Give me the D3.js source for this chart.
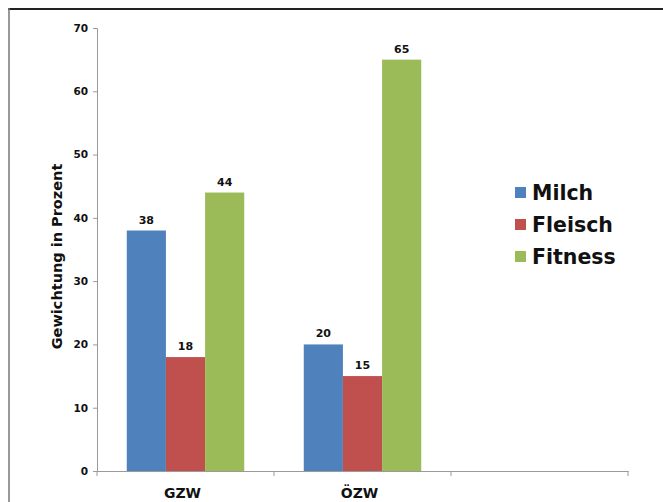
<!DOCTYPE html>
<html>
<head>
<meta charset="utf-8">
<script src="https://cdn.jsdelivr.net/npm/d3@7"></script>
<style>
  html, body { margin: 0; padding: 0; background: #fff; }
  svg { display: block; }
</style>
</head>
<body>
<svg id="chart" width="663" height="502"></svg>
<script>
// Gewichtung der Merkmalskomplexe in den Zuchtwerten
const categories = ["GZW", "ÖZW", ""];
const seriesNames = ["Milch", "Fleisch", "Fitness"];
const milch   = [38, 20, null];
const fleisch = [18, 15, null];
const fitness = [44, 65, null];
const yTicks = [0, 10, 20, 30, 40, 50, 60, 70];
const colors = ["#4F81BD", "#C0504D", "#9BBB59"];

const seriesValues = [milch, fleisch, fitness];

const svg = d3.select("#chart");
const font = "'DejaVu Sans', Verdana, sans-serif";

// frame
svg.append("line").attr("x1", 8).attr("x2", 663).attr("y1", 9).attr("y2", 9)
  .attr("stroke", "#222").attr("stroke-width", 2);
svg.append("line").attr("x1", 9).attr("x2", 9).attr("y1", 8).attr("y2", 502)
  .attr("stroke", "#777").attr("stroke-width", 1.5);

const plot = { left: 97, right: 628, top: 28, bottom: 471 };

const x = d3.scaleBand().domain(d3.range(categories.length))
  .range([plot.left, plot.right]).paddingInner(0).paddingOuter(0);
const inner = d3.scaleBand().domain(d3.range(seriesNames.length))
  .range([0, x.bandwidth()]).paddingOuter(0.76).paddingInner(0);
const y = d3.scaleLinear().domain([0, 70]).range([plot.bottom, plot.top]);

// y axis
const yAxis = svg.append("g").attr("transform", `translate(${plot.left},0)`)
  .call(d3.axisLeft(y).tickValues(yTicks).tickSize(4).tickPadding(5).tickFormat(d3.format("d")));
yAxis.select(".domain").attr("stroke", "#9a9a9a");
yAxis.selectAll(".tick line").attr("stroke", "#9a9a9a");
yAxis.selectAll("text").attr("font-family", font).attr("font-weight", "bold")
  .attr("font-size", 10.5).attr("fill", "#111");

// x axis
const xAxis = svg.append("g").attr("transform", `translate(0,${plot.bottom})`)
  .call(d3.axisBottom(x).tickValues([]).tickSizeOuter(0));
xAxis.select(".domain").attr("stroke", "#9a9a9a");
const bounds = d3.range(categories.length + 1).map(i => plot.left + i * x.bandwidth());
svg.append("g").selectAll("line").data(bounds).join("line")
  .attr("x1", d => d).attr("x2", d => d)
  .attr("y1", plot.bottom).attr("y2", plot.bottom + 5)
  .attr("stroke", "#9a9a9a");
svg.append("g").selectAll("text").data(categories).join("text")
  .attr("x", (d, i) => x(i) + x.bandwidth() / 2 - 3)
  .attr("y", plot.bottom + 27)
  .attr("text-anchor", "middle")
  .attr("font-family", font).attr("font-weight", "bold").attr("font-size", 14)
  .attr("fill", "#111")
  .text(d => d);

// bars
seriesValues.forEach((vals, s) => {
  const g = svg.append("g");
  const data = vals.map((v, i) => ({ v, i })).filter(d => d.v != null);
  g.selectAll("rect").data(data).join("rect")
    .attr("x", d => x(d.i) + inner(s))
    .attr("width", inner.bandwidth())
    .attr("y", d => y(d.v))
    .attr("height", d => y(0) - y(d.v))
    .attr("fill", colors[s]);
  g.selectAll("text").data(data).join("text")
    .attr("x", d => x(d.i) + inner(s) + inner.bandwidth() / 2)
    .attr("y", d => y(d.v) - 7)
    .attr("text-anchor", "middle")
    .attr("font-family", font).attr("font-weight", "bold").attr("font-size", 11)
    .attr("fill", "#111")
    .text(d => d.v);
});

// y axis title
svg.append("text")
  .attr("transform", `translate(62,${(plot.top + plot.bottom) / 2 + 7}) rotate(-90)`)
  .attr("text-anchor", "middle")
  .attr("font-family", font).attr("font-weight", "bold").attr("font-size", 14.5)
  .attr("fill", "#111")
  .text("Gewichtung in Prozent");

// legend
const legend = svg.append("g").attr("transform", "translate(515,193)");
seriesNames.forEach((name, i) => {
  const row = legend.append("g").attr("transform", `translate(0,${i * 32})`);
  row.append("rect").attr("x", 0).attr("y", -6).attr("width", 11).attr("height", 11)
    .attr("fill", colors[i]);
  row.append("text").attr("x", 17).attr("y", 7)
    .attr("font-family", font).attr("font-weight", "bold").attr("font-size", 20.5)
    .attr("fill", "#111")
    .text(name);
});
</script>
</body>
</html>
